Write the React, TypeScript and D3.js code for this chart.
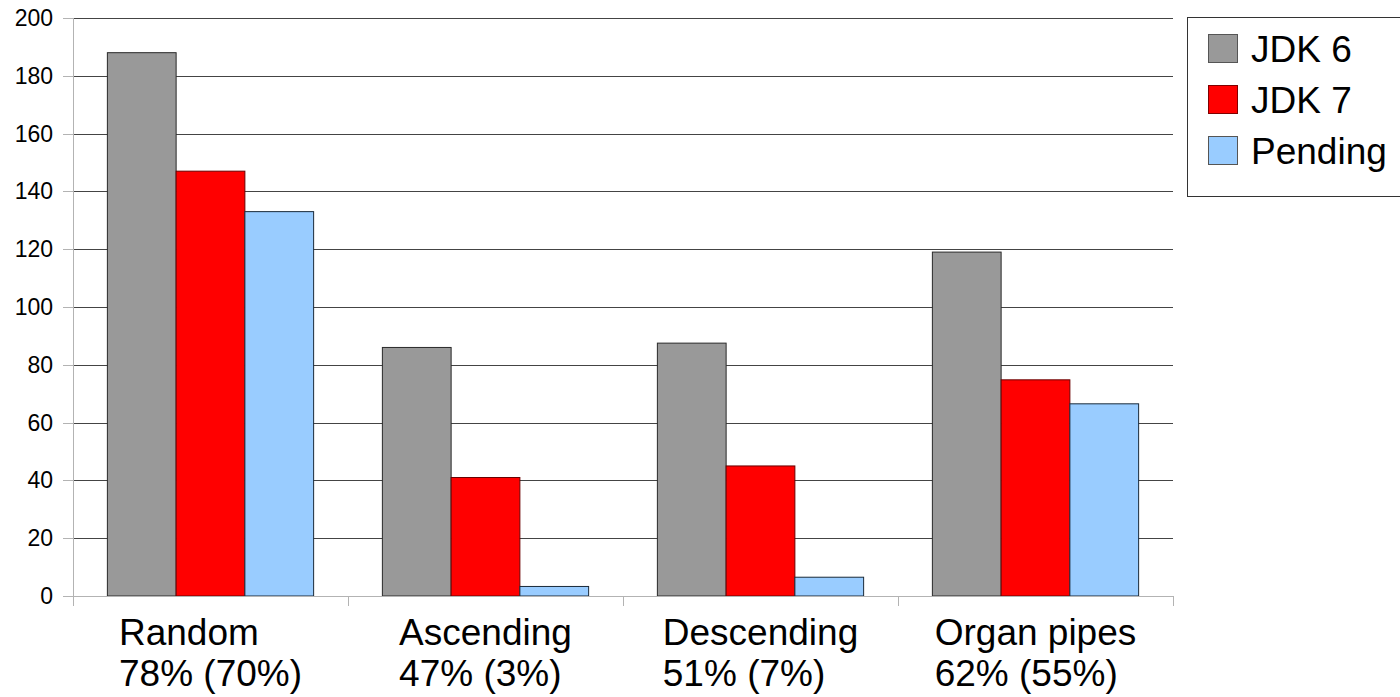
import React from "react";
import * as d3 from "d3";

const categoryNames = ["Random", "Ascending", "Descending", "Organ pipes"];
const categorySubLabels = ["78% (70%)", "47% (3%)", "51% (7%)", "62% (55%)"];
const seriesNames = ["JDK 6", "JDK 7", "Pending"];
const jdk6 = [188, 86, 87.5, 119];
const jdk7 = [147, 41, 45, 74.8];
const pending = [133, 3.3, 6.5, 66.5];
const yTicks = [0, 20, 40, 60, 80, 100, 120, 140, 160, 180, 200];

const seriesValues = [jdk6, jdk7, pending];
const fills = ["#999999", "#ff0000", "#99ccff"];
const strokes = ["#2a2a2a", "#6a0000", "#1a2a3a"];
const legendStrokes = ["#555555", "#7f0000", "#555555"];

const W = 1400;
const H = 697;
const left = 73;
const right = 1173;
const top = 18;
const bottom = 596;

export default function App() {
  const x = d3.scaleBand<string>().domain(categoryNames).range([left, right]).paddingInner(0).paddingOuter(0);
  const xs = d3.scaleBand<string>().domain(seriesNames).range([0, x.bandwidth()]).paddingInner(0).paddingOuter(0.5);
  const y = d3.scaleLinear().domain([0, 200]).range([bottom, top]);
  const font = "'Liberation Sans', Arial, sans-serif";

  const catTicks = [left, ...categoryNames.map((c) => (x(c) as number) + x.bandwidth())];

  return (
    <svg
      width={W}
      height={H}
      style={{ position: "absolute", left: 0, top: 0, background: "#fff" }}
      fontFamily={font}
    >
      {yTicks.map((t) => (
        <line key={"g" + t} x1={left} x2={right} y1={Math.round(y(t)) + 0.5} y2={Math.round(y(t)) + 0.5} stroke={t === 0 ? "#b3b3b3" : "#444444"} strokeWidth={1} />
      ))}
      {yTicks.map((t) => (
        <g key={"t" + t}>
          <line x1={63} x2={left} y1={Math.round(y(t)) + 0.5} y2={Math.round(y(t)) + 0.5} stroke="#b3b3b3" />
          <text x={53} y={y(t)} dy="0.35em" textAnchor="end" fontSize={23} fill="#000">
            {t}
          </text>
        </g>
      ))}
      <line x1={left + 0.5} x2={left + 0.5} y1={top} y2={bottom} stroke="#b3b3b3" />
      {categoryNames.map((c, ci) => (
        <g key={c}>
          {seriesNames.map((s, si) => {
            const v = seriesValues[si][ci];
            const bx = (x(c) as number) + (xs(s) as number);
            return (
              <rect
                key={s}
                x={bx}
                y={y(v)}
                width={xs.bandwidth()}
                height={bottom - y(v)}
                fill={fills[si]}
                stroke={strokes[si]}
                strokeWidth={1}
              />
            );
          })}
        </g>
      ))}
      <line x1={left} x2={right} y1={bottom + 0.5} y2={bottom + 0.5} stroke="#b3b3b3" />
      {catTicks.map((tx, i) => (
        <line key={"ct" + i} x1={Math.round(tx) + 0.5} x2={Math.round(tx) + 0.5} y1={bottom} y2={606} stroke="#b3b3b3" />
      ))}
      {categoryNames.map((c, ci) => {
        const cx = (x(c) as number) + x.bandwidth() / 2;
        return <CatLabel key={c} cx={cx} lines={[c, categorySubLabels[ci]]} font={font} />;
      })}
      <rect x={1187.5} y={17.5} width={230} height={179} fill="#fff" stroke="#333" />
      {seriesNames.map((s, si) => {
        const cy = 49 + si * 51;
        return (
          <g key={s}>
            <rect x={1208.5} y={cy - 14.5} width={29} height={28} fill={fills[si]} stroke={legendStrokes[si]} />
            <text x={1251} y={cy} dy="0.36em" fontSize={37} fill="#000">
              {s}
            </text>
          </g>
        );
      })}
    </svg>
  );
}

function CatLabel({ cx, lines, font }: { cx: number; lines: string[]; font: string }) {
  const ref = React.useRef<SVGGElement>(null);
  const [offset, setOffset] = React.useState(0);
  React.useLayoutEffect(() => {
    if (ref.current) {
      const bb = ref.current.getBBox();
      setOffset(-bb.width / 2);
    }
  }, []);
  return (
    <g ref={ref} transform={`translate(${cx + offset},0)`}>
      {lines.map((l, i) => (
        <text key={i} x={0} y={645 + i * 41} fontSize={37} fill="#000" fontFamily={font}>
          {l}
        </text>
      ))}
    </g>
  );
}
